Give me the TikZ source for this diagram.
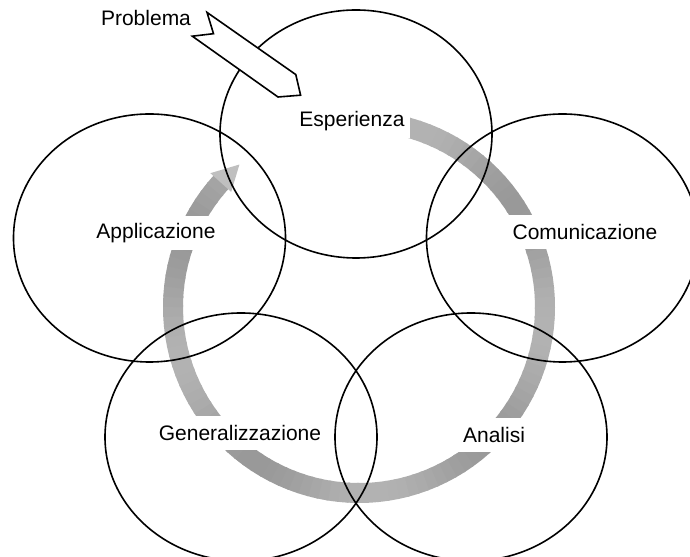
\documentclass[tikz,border=0pt]{standalone}
\usepackage{fontspec}
\setmainfont{Liberation Sans}
\usepackage{tikz}
\usetikzlibrary{shapes.geometric}
\tikzset{
    phase/.style={draw, line width=0.8bp, ellipse, minimum width=136bp, minimum height=124bp, inner sep=0pt},
    phaselabel/.style={fill=white, inner xsep=2.5bp, inner ysep=0pt, minimum height=17bp, font=\fontsize{10.5bp}{12bp}\selectfont},
    cyclearrow/.style={line width=10bp},
}

\begin{document}
\begin{tikzpicture}[x=0.5bp, y=0.5bp]
    \useasboundingbox (0,0) rectangle (690,557);
    \coordinate (mid) at (359,250);
    % grey cycle arrow
    \foreach \a in {78,75,...,-219} {
        \pgfmathsetmacro\tone{70-10*cos(4.6*(\a-73))}
        \draw[cyclearrow, draw=gray!\tone] (mid) ++(\a:186) arc[start angle=\a, end angle=\a-3.6, radius=186];
    }
    \fill[gray!50, shift={(mid)}] (138:200) -- (130:186) -- (138:172) -- cycle;
    % the five phases
    \node[phase] (esperienza) at (356,423) {};
    \node[phase] (applicazione) at (149.5,319) {};
    \node[phase] (comunicazione) at (562.5,319) {};
    \node[phase] (generalizzazione) at (241,120) {};
    \node[phase] (analisi) at (471,120) {};
    \node[phaselabel] (esp) at (352,436) {Esperienza};
    \node[phaselabel] (app) at (156,324) {Applicazione};
    \node[phaselabel] (com) at (585,325) {Comunicazione};
    \node[phaselabel] (gen) at (240,124) {Generalizzazione};
    \node[phaselabel] (ana) at (494,122) {Analisi};
    % problem coming in
    \node[phaselabel, fill=none] (problema) at (146,539) {Problema};
    \draw[line width=0.8bp, fill=white] (207,544.6) -- (213.5,523.3) -- (192.3,520.8)
        -- (278,460) -- (300.6,461.8) -- (295.8,482.4) -- cycle;
\end{tikzpicture}
\end{document}
